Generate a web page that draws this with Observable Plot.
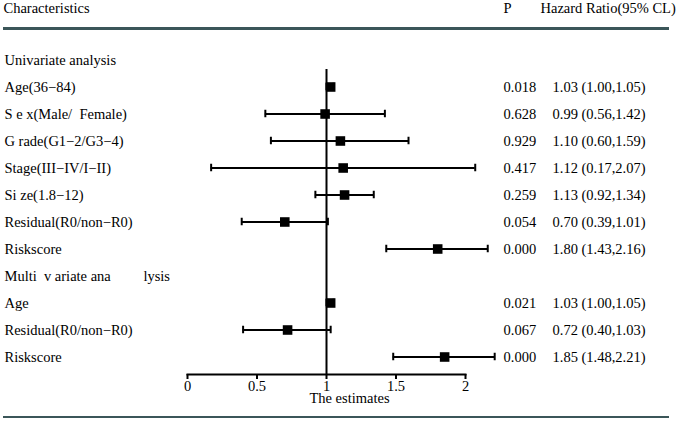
<!DOCTYPE html>
<html>
<head>
<meta charset="utf-8">
<script src="https://cdn.jsdelivr.net/npm/d3@7"></script>
<script src="https://cdn.jsdelivr.net/npm/@observablehq/plot@0.6"></script>
<style>
  body { margin: 0; background: #fff; }
  #wrap { position: relative; width: 680px; height: 421px; font-family: "Liberation Serif", "Times New Roman", serif; }
  #wrap svg text { white-space: pre; }
  .sep { position: absolute; left: 3px; width: 666px; background: #3b5659; }
</style>
</head>
<body>
<div id="wrap"></div>
<script>
// ---- data ----
const labels = [
  "Univariate analysis",
  "Age(36\u221284)",
  "S e x(Male/  Female)",
  "G rade(G1\u22122/G3\u22124)",
  "Stage(III\u2212IV/I\u2212II)",
  "Si ze(1.8\u221212)",
  "Residual(R0/non\u2212R0)",
  "Riskscore",
  "Multi  v ariate ana         lysis",
  "Age",
  "Residual(R0/non\u2212R0)",
  "Riskscore"
];
const hr    = [null, 1.03, 0.99, 1.10, 1.12, 1.13, 0.70, 1.80, null, 1.03, 0.72, 1.85];
const lower = [null, 1.00, 0.56, 0.60, 0.17, 0.92, 0.39, 1.43, null, 1.00, 0.40, 1.48];
const upper = [null, 1.05, 1.42, 1.59, 2.07, 1.34, 1.01, 2.16, null, 1.05, 1.03, 2.21];
const pvals = [null, "0.018", "0.628", "0.929", "0.417", "0.259", "0.054", "0.000", null, "0.021", "0.067", "0.000"];
const xTicks = [0, 0.5, 1, 1.5, 2];
const headers = { label: "Characteristics", p: "P", hr: "Hazard Ratio(95% CL)" };
const xLabel = "The estimates";

(function () {
const rows = labels.map((label, i) => ({
  row: i, label, hr: hr[i], lo: lower[i], hi: upper[i], p: pvals[i],
  ci: hr[i] == null ? null : `${hr[i].toFixed(2)} (${lower[i].toFixed(2)},${upper[i].toFixed(2)})`
}));
const est = rows.filter(d => d.hr != null);

const fs = 14.5;
const chart = Plot.plot({
  width: 680,
  height: 421,
  marginLeft: 187,
  marginRight: 215,
  marginTop: 69,
  marginBottom: 47,
  style: { fontFamily: '"Liberation Serif", "Times New Roman", serif', fontSize: fs + "px", color: "black", background: "transparent" },
  x: { domain: [0, 2] },
  y: { type: "band", domain: rows.map(d => d.row), range: [43.25, 373.25], padding: 0, axis: null },
  marks: [
    Plot.ruleX([1], { stroke: "black", strokeWidth: 2 }),
    Plot.frame({ anchor: "bottom", stroke: "black", strokeWidth: 2 }),
    Plot.axisX(xTicks, { tickSize: 5, tickPadding: 1, strokeWidth: 2, fontSize: fs, tickFormat: d => String(d), label: null }),
    Plot.text([xLabel], { frameAnchor: "bottom", text: d => d, dx: 23, dy: 24, lineAnchor: "middle", fontSize: fs }),
    // CI lines and caps
    Plot.ruleY(est, { y: "row", x1: "lo", x2: "hi", stroke: "black", strokeWidth: 2 }),
    Plot.tickX(est, { y: "row", x: "lo", stroke: "black", strokeWidth: 2, insetTop: 9.75, insetBottom: 9.75 }),
    Plot.tickX(est, { y: "row", x: "hi", stroke: "black", strokeWidth: 2, insetTop: 9.75, insetBottom: 9.75 }),
    Plot.dot(est, { y: "row", x: "hr", symbol: "square", r: 5.4, fill: "black", stroke: null }),
    // left labels
    Plot.text(rows, { y: "row", text: "label", frameAnchor: "left", textAnchor: "start", dx: -183, lineAnchor: "middle", fontSize: fs }),
    // right columns
    Plot.text(est, { y: "row", text: "p", frameAnchor: "right", textAnchor: "start", dx: 38, lineAnchor: "middle", fontSize: fs }),
    Plot.text(est, { y: "row", text: "ci", frameAnchor: "right", textAnchor: "start", dx: 87, lineAnchor: "middle", fontSize: fs }),
    // header
    Plot.text([headers.label], { text: d => d, frameAnchor: "top-left", textAnchor: "start", dx: -184, dy: -61.6, lineAnchor: "middle", fontSize: fs }),
    Plot.text([headers.p], { text: d => d, frameAnchor: "top-right", textAnchor: "start", dx: 38, dy: -61.6, lineAnchor: "middle", fontSize: fs }),
    Plot.text([headers.hr], { text: d => d, frameAnchor: "top-right", textAnchor: "start", dx: 75, dy: -61.6, lineAnchor: "middle", fontSize: fs })
  ]
});
const wrap = document.getElementById("wrap");
wrap.appendChild(chart);
const sepTop = document.createElement("div");
sepTop.className = "sep"; sepTop.style.top = "27px"; sepTop.style.height = "3px";
const sepBot = document.createElement("div");
sepBot.className = "sep"; sepBot.style.top = "416px"; sepBot.style.height = "2px";
wrap.appendChild(sepTop); wrap.appendChild(sepBot);
})();
</script>
</body>
</html>
